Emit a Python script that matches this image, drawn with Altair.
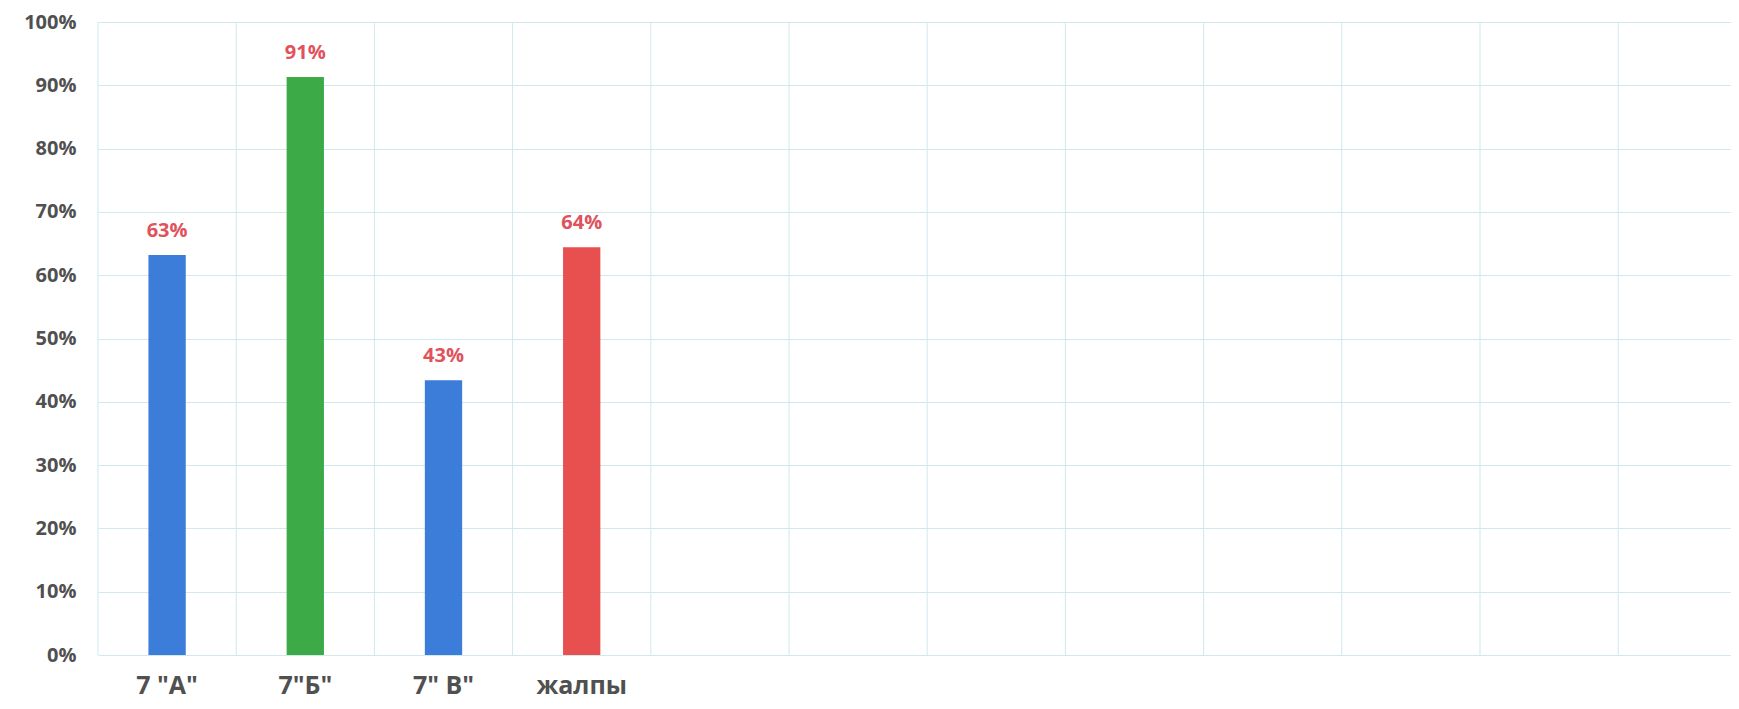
import altair as alt
import pandas as pd

# ---- data ----
categories = ['7 "A"', '7"Б"', '7" В"', 'жалпы']
values = [0.632, 0.913, 0.434, 0.644]
color_range = ["#3b7dd8", "#3daa48", "#3b7dd8", "#e8504f"]
y_ticks = [0, 0.1, 0.2, 0.3, 0.4, 0.5, 0.6, 0.7, 0.8, 0.9, 1.0]

# empty category slots that the original chart kept to the right
n_slots = 12
empty_slots = [" " * (i + 1) for i in range(n_slots - len(categories))]
all_slots = categories + empty_slots

bars = pd.DataFrame({"cat": categories, "val": values})
slots = pd.DataFrame({"cat": all_slots})

PLOT_W = 1633
PLOT_H = 633
STEP = 138.2

FONT = "Open Sans"
GRID = "#cfe9ee"
TEXT = "#505050"

xscale = alt.Scale(domain=all_slots, range=[0, STEP * n_slots], paddingInner=0, paddingOuter=0)
yscale = alt.Scale(domain=[0, 1])

x_axis = alt.Axis(
    title=None,
    labelAngle=0,
    ticks=False,
    domain=False,
    grid=False,
    labelFont=FONT,
    labelFontWeight="bold",
    labelFontSize=25,
    labelColor=TEXT,
    labelBaseline="alphabetic",
    labelPadding=38,
)
y_axis = alt.Axis(
    title=None,
    values=y_ticks,
    format=".0%",
    ticks=False,
    domain=False,
    grid=True,
    gridColor=GRID,
    gridWidth=1,
    labelFont=FONT,
    labelFontWeight="bold",
    labelFontSize=20,
    labelColor=TEXT,
    labelPadding=22,
)

vgrid = (
    alt.Chart(slots)
    .mark_rule(color=GRID, strokeWidth=1)
    .encode(
        x=alt.X("cat:N", scale=xscale, sort=None, bandPosition=0, axis=x_axis),
        y=alt.datum(0, scale=yscale, axis=y_axis),
        y2=alt.datum(1),
    )
)

bar_layer = (
    alt.Chart(bars)
    .mark_bar(width=alt.RelativeBandSize(0.27))
    .encode(
        x=alt.X("cat:N", scale=xscale, sort=None, axis=x_axis),
        y=alt.Y("val:Q", scale=yscale, axis=y_axis),
        color=alt.Color(
            "cat:N",
            scale=alt.Scale(domain=categories, range=color_range),
            legend=None,
        ),
    )
)

label_layer = (
    alt.Chart(bars)
    .mark_text(
        font=FONT,
        fontWeight="bold",
        fontSize=20,
        color="#e0525c",
        baseline="alphabetic",
        dy=-18,
    )
    .encode(
        x=alt.X("cat:N", scale=xscale, sort=None, axis=x_axis),
        y=alt.Y("val:Q", scale=yscale, axis=y_axis),
        text=alt.Text("val:Q", format=".0%"),
    )
)

chart = (
    alt.layer(vgrid, bar_layer, label_layer)
    .properties(
        width=PLOT_W,
        height=PLOT_H,
        autosize=alt.AutoSizeParams(type="none"),
        padding={"left": 90, "top": 14, "right": 0, "bottom": 46},
        background="white",
    )
    .configure_view(stroke=None)
)

chart.save("out.html", embed_options={"renderer": "svg", "actions": False})
